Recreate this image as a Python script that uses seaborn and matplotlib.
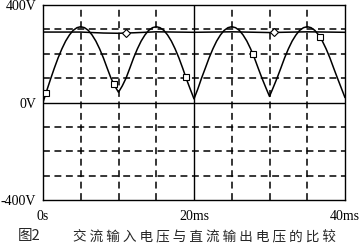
import numpy as np
import pandas as pd
import matplotlib
matplotlib.use("Agg")
import matplotlib.pyplot as plt
import seaborn as sns

# time in ms, 0.5 ms steps
t_ms = [i * 0.5 for i in range(81)]
v_ac = [0, 49, 96, 141, 183, 220, 252, 277, 296, 307, 311, 307, 296, 277, 252, 220, 183, 141, 100, 68, 42,
        68, 100, 141, 183, 220, 252, 277, 296, 307, 311, 307, 296, 277, 252, 220, 183, 141, 96, 55, 15,
        55, 100, 141, 183, 220, 252, 277, 296, 307, 311, 307, 296, 277, 252, 220, 183, 141, 100, 62, 25,
        62, 100, 141, 183, 220, 252, 277, 296, 307, 311, 307, 296, 277, 252, 220, 183, 141, 100, 60, 20]
t_dc = [0, 5, 8, 10, 12, 15, 20, 25, 30, 35, 40]
v_dc = [289, 289, 285, 284, 286, 290, 288, 290, 287, 290, 288]
ac_marker_t = [0.4, 9.4, 18.9, 27.8, 36.7]
dc_marker_t = [11.0, 30.6]

x_ticks = [0, 20, 40]
x_tick_labels = ["0s", "20ms", "40ms"]
y_ticks = [-400, 0, 400]
y_tick_labels = ["-400V", "0V", "400V"]
caption_head = "图2"
caption_body = "交流输入电压与直流输出电压的比较"

sns.set_style("white")
plt.rcParams['font.family'] = ['Liberation Serif', 'DejaVu Serif']

fig = plt.figure(figsize=(3.6, 2.48), dpi=100)
ax = fig.add_axes([43 / 360, 1 - 200 / 248, (345 - 43) / 360, (200 - 5) / 248])

df_ac = pd.DataFrame({"t": t_ms, "v": v_ac})
df_dc = pd.DataFrame({"t": t_dc, "v": v_dc})

# grid
for xv in np.arange(5, 40, 5):
    if xv == 20:
        ax.axvline(xv, color="black", lw=1.0, zorder=1)
    else:
        ax.axvline(xv, color="black", lw=1.1, ls=(0, (4.5, 3)), zorder=1)
for yv in np.arange(-300, 400, 100):
    if yv == 0:
        ax.axhline(yv, color="black", lw=1.0, zorder=1)
    else:
        ax.axhline(yv, color="black", lw=1.1, ls=(0, (4.5, 3)), zorder=1)

sns.lineplot(data=df_ac, x="t", y="v", ax=ax, color="black", lw=1.1, zorder=3)
sns.lineplot(data=df_dc, x="t", y="v", ax=ax, color="black", lw=1.1, zorder=3)

ax.plot(ac_marker_t, np.interp(ac_marker_t, t_ms, v_ac), ls="none", marker="s", ms=4.5,
        mfc="white", mec="black", mew=0.8, zorder=4)
ax.plot(dc_marker_t, np.interp(dc_marker_t, t_dc, v_dc), ls="none", marker="D", ms=4.5,
        mfc="white", mec="black", mew=0.8, zorder=4)

ax.set_xlim(0, 40)
ax.set_ylim(-400, 400)
ax.set_xticks(x_ticks)
ax.set_xticklabels(x_tick_labels)
ax.set_yticks(y_ticks)
ax.set_yticklabels(y_tick_labels)
ax.set_xlabel("")
ax.set_ylabel("")
ax.tick_params(axis="both", direction="out", length=3, width=1, color="black",
               labelsize=10, labelcolor="black", pad=2)
ax.tick_params(axis="x", pad=4)
for s in ax.spines.values():
    s.set_visible(True)
    s.set_color("black")
    s.set_linewidth(1.0)

fig.text(18 / 360, 1 - 236 / 248, caption_head, fontsize=10.5,
         family=['Noto Sans CJK SC', 'DejaVu Sans'], va="center", ha="left")
fig.text(73 / 360, 1 - 236 / 248, " ".join(caption_body), fontsize=9.8,
         family=['Noto Sans CJK SC', 'DejaVu Sans'], va="center", ha="left")

fig.savefig("out.png", dpi=100)
